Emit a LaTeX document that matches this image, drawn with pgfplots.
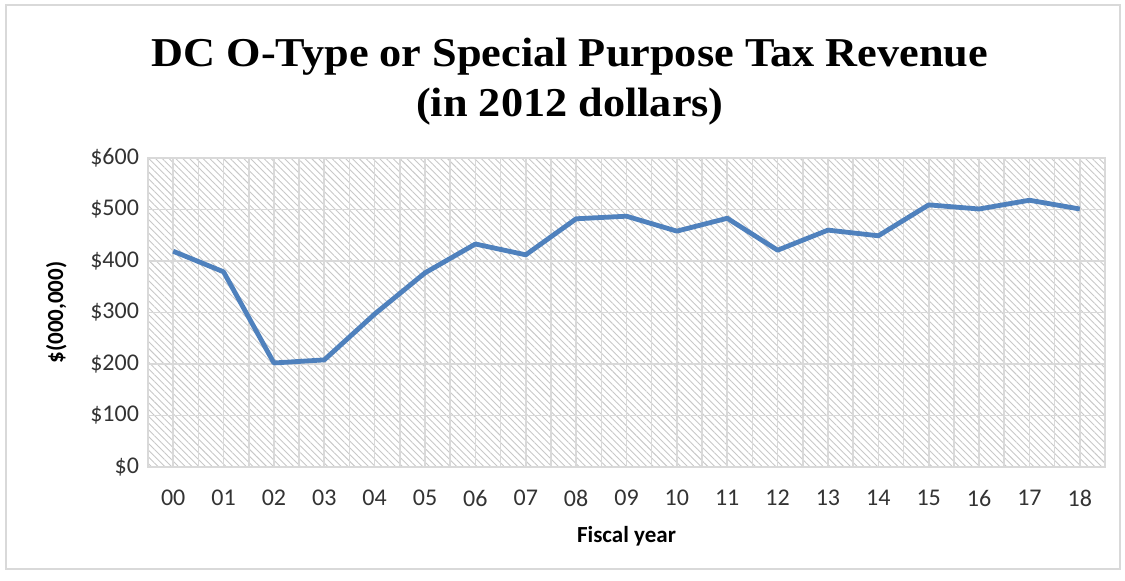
\documentclass[border=0pt]{standalone}
\usepackage{fontspec}
\setmainfont{Carlito}
\newfontfamily\titlefont[FakeStretch=1.08]{Liberation Serif}
\usepackage{pgfplots}
\pgfplotsset{compat=1.18}
\usetikzlibrary{patterns.meta}
\definecolor{lineblue}{RGB}{79,129,189}
\definecolor{gridgray}{RGB}{217,217,217}
\definecolor{hatch}{RGB}{200,200,200}
\begin{document}
\begin{tikzpicture}
\begin{axis}[
    at={(0,0)}, anchor=south west,
    scale only axis,
    width=478.5pt, height=154.5pt,
    xmin=-0.5, xmax=18.5,
    ymin=0, ymax=600,
    xtick={0,...,18},
    xticklabels={00,01,02,03,04,05,06,07,08,09,10,11,12,13,14,15,16,17,18},
    minor xtick={-0.5,0.5,...,18.5},
    ytick={0,100,...,600},
    yticklabels={\$0,\$100,\$200,\$300,\$400,\$500,\$600},
    grid=both,
    major grid style={gridgray, line width=0.8pt},
    minor grid style={gridgray, line width=0.8pt},
    major tick length=0pt, minor tick length=0pt,
    axis line style={gridgray, line width=0.8pt},
    axis background/.style={pattern={Lines[angle=-45, distance=2.4pt, line width=0.45pt]}, pattern color=hatch},
    tick label style={font=\fontsize{12}{14}\selectfont, text=black!80},
    xticklabel style={yshift=-8pt},
    yticklabel style={xshift=-1pt},
    xlabel={\textbf{Fiscal year}},
    xlabel style={font=\fontsize{11.5}{13}\selectfont, yshift=-3pt},
    ylabel={\textbf{\$(000,000)}},
    ylabel style={font=\fontsize{11.5}{13}\selectfont, yshift=5pt},
    clip=false,
]
\addplot[lineblue, line width=2.4pt, line join=round] coordinates {
    (0, 419) (1, 379) (2, 202) (3, 208) (4, 297) (5, 377) (6, 433)
    (7, 412) (8, 482) (9, 487) (10, 458) (11, 483) (12, 421) (13, 460)
    (14, 449) (15, 509) (16, 501) (17, 518) (18, 501)
};
\end{axis}
\node[font=\titlefont\bfseries\fontsize{20.5}{24}\selectfont, align=center] at (211pt,192.5pt) {DC O-Type or Special Purpose Tax Revenue\\[1pt](in 2012 dollars)};
\draw[gridgray, line width=1pt] (-71pt,-51pt) rectangle (486pt,231pt);
\pgfresetboundingbox
\path[use as bounding box] (-74pt,-56.5pt) rectangle (488.5pt,233.5pt);
\end{tikzpicture}
\end{document}
